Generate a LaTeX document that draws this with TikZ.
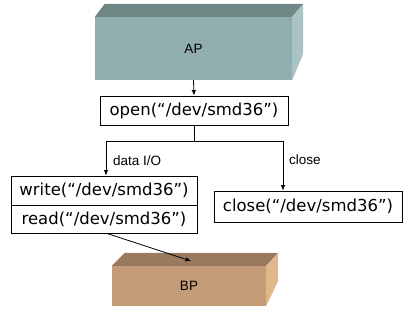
\documentclass[tikz,border=0pt]{standalone}
\usepackage{fontspec}
\setmainfont{Liberation Sans}
\newfontfamily\codefont{DejaVu Sans}
\usetikzlibrary{arrows.meta,calc}
\definecolor{apfront}{RGB}{143,174,173}
\definecolor{aptop}{RGB}{111,136,134}
\definecolor{apside}{RGB}{168,196,196}
\definecolor{bpfront}{RGB}{196,157,120}
\definecolor{bptop}{RGB}{154,122,94}
\definecolor{bpside}{RGB}{224,184,140}
\tikzset{
  front/.style={inner sep=0pt, font=\fontsize{13.5}{15}\selectfont},
  callbox/.style={draw=black, line width=0.9pt, inner sep=0pt, font=\codefont\fontsize{16.5}{18}\selectfont},
  lbl/.style={font=\fontsize{13.5}{15}\selectfont, inner sep=1pt},
  arr/.style={line width=0.8pt, -{Latex[length=5.5pt,width=4.5pt]}},
  link/.style={line width=0.8pt},
}
\begin{document}
\begin{tikzpicture}[x=1pt,y=-1pt]
\useasboundingbox (0,0) rectangle (404,310);

% AP block
\node[front, fill=apfront, minimum width=197pt, minimum height=63pt] (ap) at (193.5,48.5) {AP};
\fill[aptop] (ap.north west) -- ++(10,-13) -- ($(ap.north east)+(11,-13)$) -- (ap.north east) -- cycle;
\fill[apside] (ap.north east) -- ++(11,-13) -- ++(0,50) -- (ap.south east) -- cycle;

% BP block
\node[front, fill=bpfront, minimum width=154pt, minimum height=40pt] (bp) at (189,286) {BP};
\fill[bptop] (bp.north west) -- ++(13,-13) -- ($(bp.north east)+(12,-13)$) -- (bp.north east) -- cycle;
\fill[bpside] (bp.north east) -- ++(12,-13) -- ++(0,28) -- (bp.south east) -- cycle;
\coordinate (bptarget) at (191,261);

% call boxes
\node[callbox, minimum width=188pt, minimum height=29pt] (open) at (194,110.5) {open(“/dev/smd36”)};
\node[callbox, minimum width=186pt, minimum height=29pt] (write) at (104,190.5) {write(“/dev/smd36”)};
\node[callbox, minimum width=186pt, minimum height=28pt] (read) at (104,219) {read(“/dev/smd36”)};
\node[callbox, minimum width=188pt, minimum height=31pt] (close) at (308,206.5) {close(“/dev/smd36”)};

% connectors
\draw[arr] (ap.south) -- (open.north);
\draw[link] (open.south) -- ++(0,16) coordinate (split);
\draw[arr] (split) -| ([xshift=2pt]write.north);
\draw[arr] (split) -| ([xshift=-25pt]close.north);
\draw[arr] ([xshift=3pt]read.south) -- (bptarget);

% labels
\node[lbl, anchor=west] (dio) at (112,161) {data I/O};
\node[lbl, anchor=west] (cl) at (288,160) {close};
\end{tikzpicture}
\end{document}
